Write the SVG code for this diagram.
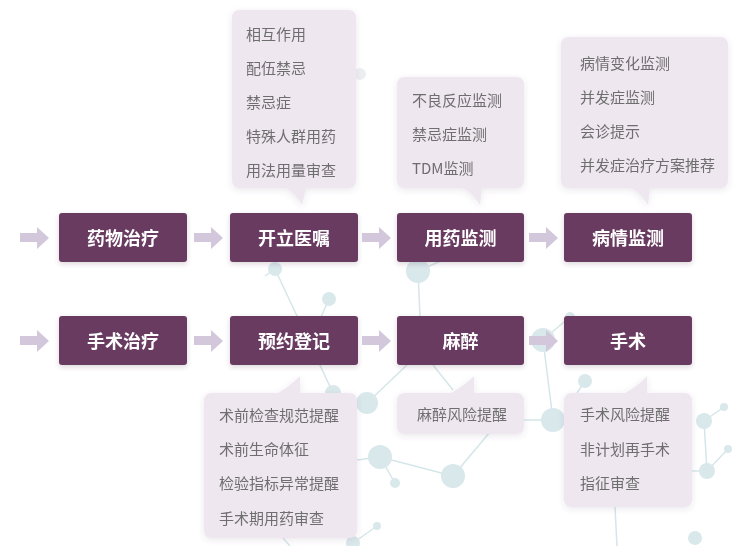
<svg xmlns="http://www.w3.org/2000/svg" width="747" height="546" viewBox="0 0 747 546">
<defs>
<style>
.bg{fill:#ffffff}
.net line{stroke:#d5e6e9;stroke-width:1.5}
.net circle{fill:#d9e8eb}
.node rect{fill:#693a60}
.node text{fill:#ffffff;font-family:"Noto Sans CJK SC","Noto Sans",sans-serif;font-size:18px;font-weight:bold;text-anchor:middle;dominant-baseline:central}
.bubble path{fill:#efe7f0}
.bubble text{fill:#6e6e6e;font-family:"Noto Sans CJK SC","Noto Sans",sans-serif;font-size:15px;dominant-baseline:central}
.arrow{fill:#d3c7dc}
</style>
<filter id="sh" x="-20%" y="-20%" width="140%" height="160%">
<feDropShadow dx="0" dy="2" stdDeviation="2.5" flood-color="#3a2a40" flood-opacity="0.18"/>
</filter>
<filter id="sh2" x="-20%" y="-20%" width="140%" height="150%">
<feDropShadow dx="0" dy="2" stdDeviation="3" flood-color="#5a4a60" flood-opacity="0.12"/>
</filter>
<path id="arr" d="M0 -4.5 H17 V-10.5 L29 0.5 L17 11.5 V4.5 H0 Z"/>
</defs>
<rect class="bg" width="747" height="546"/>

<g id="background-network" class="net">
<line x1="265" y1="276" x2="275" y2="269"/>
<line x1="275" y1="269" x2="333" y2="393"/>
<line x1="329" y1="299" x2="321" y2="317"/>
<line x1="418" y1="271" x2="420" y2="317"/>
<line x1="418" y1="271" x2="443" y2="260"/>
<line x1="367" y1="403" x2="407" y2="365"/>
<line x1="433" y1="365" x2="453" y2="390"/>
<line x1="357" y1="460" x2="380" y2="457"/>
<line x1="380" y1="457" x2="453" y2="476"/>
<line x1="380" y1="457" x2="395" y2="483"/>
<line x1="453" y1="476" x2="490" y2="432"/>
<line x1="377" y1="526" x2="353" y2="543"/>
<line x1="283" y1="538" x2="290" y2="546"/>
<line x1="572" y1="315" x2="543" y2="340"/>
<line x1="543" y1="340" x2="553" y2="420"/>
<line x1="524" y1="420" x2="553" y2="420"/>
<line x1="585" y1="381" x2="577" y2="393"/>
<line x1="704" y1="421" x2="724" y2="407"/>
<line x1="704" y1="421" x2="707" y2="471"/>
<line x1="707" y1="471" x2="728" y2="449"/>
<line x1="692" y1="471" x2="707" y2="471"/>
<line x1="615" y1="507" x2="617" y2="546"/>
<circle cx="275" cy="269" r="7"/>
<circle cx="329" cy="299" r="7"/>
<circle cx="418" cy="271" r="12"/>
<circle cx="570" cy="317" r="5"/>
<circle cx="333" cy="393" r="8"/>
<circle cx="367" cy="403" r="11"/>
<circle cx="380" cy="457" r="12"/>
<circle cx="395" cy="483" r="5"/>
<circle cx="453" cy="476" r="12"/>
<circle cx="377" cy="526" r="4"/>
<circle cx="353" cy="543" r="7"/>
<circle cx="543" cy="340" r="12"/>
<circle cx="553" cy="420" r="12"/>
<circle cx="585" cy="381" r="7"/>
<circle cx="704" cy="421" r="8"/>
<circle cx="724" cy="407" r="4"/>
<circle cx="707" cy="471" r="8"/>
<circle cx="728" cy="449" r="4"/>
<circle cx="695" cy="538" r="7"/>
<circle cx="360" cy="74" r="6" style="fill:#eceff1"/>
</g>

<g id="connectors">
<use href="#arr" class="arrow" x="20" y="237.5"/>
<use href="#arr" class="arrow" x="194" y="237.5"/>
<use href="#arr" class="arrow" x="362" y="237.5"/>
<use href="#arr" class="arrow" x="529" y="237.5"/>
<use href="#arr" class="arrow" x="20" y="340.5"/>
<use href="#arr" class="arrow" x="194" y="340.5"/>
<use href="#arr" class="arrow" x="362" y="340.5"/>
<use href="#arr" class="arrow" x="529" y="340.5"/>
</g>

<g id="bubble-kaili" class="bubble" filter="url(#sh2)">
<path d="M240 10 H348 Q356 10 356 18 V180 Q356 188 348 188 H306 L302 205 Q296 194 286 188 H240 Q232 188 232 180 V18 Q232 10 240 10 Z"/>
<text x="246" y="33.5">相互作用</text>
<text x="246" y="67.5">配伍禁忌</text>
<text x="246" y="101.5">禁忌症</text>
<text x="246" y="135.5">特殊人群用药</text>
<text x="246" y="169.5">用法用量审查</text>
</g>

<g id="bubble-yongyao" class="bubble" filter="url(#sh2)">
<path d="M405 77 H516 Q524 77 524 85 V180 Q524 188 516 188 H482 L480 205 Q474 194 463 188 H405 Q397 188 397 180 V85 Q397 77 405 77 Z"/>
<text x="412" y="99.5">不良反应监测</text>
<text x="412" y="133.5">禁忌症监测</text>
<text x="412" y="167.5">TDM监测</text>
</g>

<g id="bubble-bingqing" class="bubble" filter="url(#sh2)">
<path d="M569 37 H720 Q728 37 728 45 V180 Q728 188 720 188 H650 L648 205 Q642 194 631 188 H569 Q561 188 561 180 V45 Q561 37 569 37 Z"/>
<text x="580" y="62.5">病情变化监测</text>
<text x="580" y="96.5">并发症监测</text>
<text x="580" y="130.5">会诊提示</text>
<text x="580" y="164.5">并发症治疗方案推荐</text>
</g>

<g id="bubble-yuyue" class="bubble" filter="url(#sh2)">
<path d="M212 393 H278 Q290 386 300 376 V393 H349 Q357 393 357 401 V530 Q357 538 349 538 H212 Q204 538 204 530 V401 Q204 393 212 393 Z"/>
<text x="219" y="414.5">术前检查规范提醒</text>
<text x="219" y="448.5">术前生命体征</text>
<text x="219" y="482.5">检验指标异常提醒</text>
<text x="219" y="517.5">手术期用药审查</text>
</g>

<g id="bubble-mazui" class="bubble" filter="url(#sh2)">
<path d="M405 393 H451 Q464 386 474 376 V393 H516 Q524 393 524 401 V426 Q524 434 516 434 H405 Q397 434 397 426 V401 Q397 393 405 393 Z"/>
<text x="417" y="413.5">麻醉风险提醒</text>
</g>

<g id="bubble-shoushu" class="bubble" filter="url(#sh2)">
<path d="M572 393 H625 Q638 386 647 376 V393 H684 Q692 393 692 401 V499 Q692 507 684 507 H572 Q564 507 564 499 V401 Q564 393 572 393 Z"/>
<text x="580" y="413.5">手术风险提醒</text>
<text x="580" y="448.5">非计划再手术</text>
<text x="580" y="482.5">指征审查</text>
</g>

<g id="node-yaowu" class="node" filter="url(#sh)"><rect x="59" y="213" width="128" height="49" rx="3"/><text x="123" y="237">药物治疗</text></g>
<g id="node-kaili" class="node" filter="url(#sh)"><rect x="230" y="213" width="128" height="49" rx="3"/><text x="294" y="237">开立医嘱</text></g>
<g id="node-yongyao" class="node" filter="url(#sh)"><rect x="397" y="213" width="127" height="49" rx="3"/><text x="460.5" y="237">用药监测</text></g>
<g id="node-bingqing" class="node" filter="url(#sh)"><rect x="564" y="213" width="128" height="49" rx="3"/><text x="628" y="237">病情监测</text></g>
<g id="node-shoushuzl" class="node" filter="url(#sh)"><rect x="59" y="316" width="128" height="49" rx="3"/><text x="123" y="340">手术治疗</text></g>
<g id="node-yuyue" class="node" filter="url(#sh)"><rect x="230" y="316" width="128" height="49" rx="3"/><text x="294" y="340">预约登记</text></g>
<g id="node-mazui" class="node" filter="url(#sh)"><rect x="397" y="316" width="127" height="49" rx="3"/><text x="460.5" y="340">麻醉</text></g>
<g id="node-shoushu" class="node" filter="url(#sh)"><rect x="564" y="316" width="128" height="49" rx="3"/><text x="628" y="340">手术</text></g>
</svg>
